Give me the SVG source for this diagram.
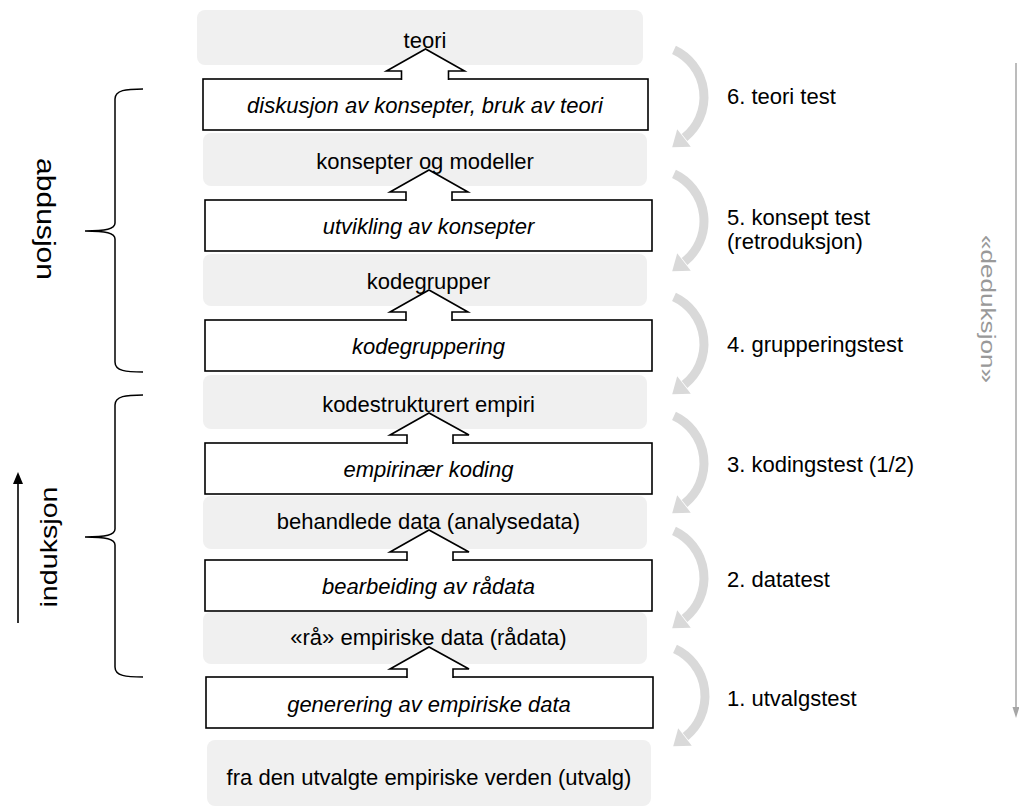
<svg xmlns="http://www.w3.org/2000/svg" xmlns:xlink="http://www.w3.org/1999/xlink" width="1019" height="807" viewBox="0 0 1019 807">
  <style>
    .lvl { fill: #f0f0f0; stroke: none; }
    .step { fill: #ffffff; stroke: #000000; stroke-width: 1.6; }
    .t { font-family: "Liberation Sans", Arial, sans-serif; font-size: 22px; fill: #000000; }
    .c { text-anchor: middle; }
    .i { font-style: italic; }
    .up { fill: #ffffff; stroke: #000000; stroke-width: 1.6; stroke-linejoin: miter; }
    .brace { fill: none; stroke: #000000; stroke-width: 1.5; }
    .side { font-family: "Liberation Sans", Arial, sans-serif; text-anchor: middle; }
  </style>
  <defs>
    <!-- light grey curved return arrow, drawn around its circle centre -->
    <g id="cycle">
      <path d="M 22 -47.1 A 52 52 0 0 1 32.6 40.5" fill="none" stroke="#d9d9d9" stroke-width="9"/>
      <polygon points="20.2,50.2 38.8,49.7 25.2,32.3" fill="#d9d9d9"/>
    </g>
  </defs>

  <rect width="1019" height="807" fill="#ffffff"/>

  <!-- grey levels (results) -->
  <g id="lvl-teori">
    <rect class="lvl" x="197" y="10" width="446" height="55" rx="8"/>
    <text class="t c" x="425" y="48">teori</text>
  </g>
  <g id="lvl-konsepter">
    <rect class="lvl" x="203" y="133" width="444" height="53" rx="8"/>
    <text class="t c" x="425" y="169">konsepter og modeller</text>
  </g>
  <g id="lvl-kodegrupper">
    <rect class="lvl" x="203" y="254" width="444" height="52" rx="8"/>
    <text class="t c" x="428.5" y="289">kodegrupper</text>
  </g>
  <g id="lvl-kodestrukturert">
    <rect class="lvl" x="203" y="375" width="444" height="54" rx="8"/>
    <text class="t c" x="428.5" y="412">kodestrukturert empiri</text>
  </g>
  <g id="lvl-behandlede">
    <rect class="lvl" x="203" y="496" width="444" height="53" rx="8"/>
    <text class="t c" x="428.5" y="529">behandlede data (analysedata)</text>
  </g>
  <g id="lvl-raadata">
    <rect class="lvl" x="203" y="612" width="444" height="52" rx="8"/>
    <text class="t c" x="428.5" y="645">«rå» empiriske data (rådata)</text>
  </g>
  <g id="lvl-utvalg">
    <rect class="lvl" x="207" y="740" width="444" height="66" rx="8"/>
    <text class="t c" x="429" y="785">fra den utvalgte empiriske verden (utvalg)</text>
  </g>

  <!-- white steps (activities) -->
  <g id="step-diskusjon">
    <rect class="step" x="203" y="79" width="445" height="51"/>
    <text class="t c i" x="425" y="113">diskusjon av konsepter, bruk av teori</text>
  </g>
  <g id="step-utvikling">
    <rect class="step" x="205" y="200" width="447" height="51"/>
    <text class="t c i" x="428.5" y="234">utvikling av konsepter</text>
  </g>
  <g id="step-kodegruppering">
    <rect class="step" x="205" y="320" width="447" height="51"/>
    <text class="t c i" x="428.5" y="354">kodegruppering</text>
  </g>
  <g id="step-koding">
    <rect class="step" x="205" y="443" width="447" height="51"/>
    <text class="t c i" x="428.5" y="477">empirinær koding</text>
  </g>
  <g id="step-bearbeiding">
    <rect class="step" x="205" y="560" width="447" height="51"/>
    <text class="t c i" x="428.5" y="594">bearbeiding av rådata</text>
  </g>
  <g id="step-generering">
    <rect class="step" x="206" y="677" width="447" height="51"/>
    <text class="t c i" x="429" y="712">generering av empiriske data</text>
  </g>

  <!-- test labels -->
  <g id="tests" class="t">
    <text x="727" y="104">6. teori test</text>
    <text x="727" y="225">5. konsept test</text>
    <text x="727" y="249">(retroduksjon)</text>
    <text x="727" y="352">4. grupperingstest</text>
    <text x="727" y="472">3. kodingstest (1/2)</text>
    <text x="727" y="587">2. datatest</text>
    <text x="727" y="706">1. utvalgstest</text>
  </g>

  <!-- side labels -->
  <g id="abdusjon">
    <path class="brace" d="M143,89 C126,89 115,90 115,99 V223 C115,229 106,231 85,231 C106,231 115,233 115,239 V362 C115,371 126,372 143,372"/>
    <text class="side" font-size="25" transform="translate(37,219) rotate(90)" textLength="122" lengthAdjust="spacingAndGlyphs">abdusjon</text>
  </g>
  <g id="induksjon">
    <path class="brace" d="M143,395 C126,395 115,396 115,405 V529 C115,535 106,537 85,537 C106,537 115,539 115,545 V667 C115,676 126,677 143,677"/>
    <text class="side" font-size="24" transform="translate(57,547) rotate(-90)" textLength="121" lengthAdjust="spacingAndGlyphs">induksjon</text>
    <line x1="18" y1="623" x2="18" y2="482" stroke="#000000" stroke-width="1.6"/>
    <polygon points="18,472 13,484 23,484" fill="#000000"/>
  </g>
  <g id="deduksjon">
    <line x1="1016" y1="63" x2="1016" y2="708" stroke="#a6a6a6" stroke-width="1.5"/>
    <polygon points="1016,718 1012.5,707 1019.5,707" fill="#a6a6a6"/>
    <text class="side" font-size="21" fill="#999999" transform="translate(981,309) rotate(90)" textLength="148" lengthAdjust="spacingAndGlyphs">«deduksjon»</text>
  </g>

  <!-- connectors: block arrows from each step up to its result, and the test cycles -->
  <g id="connectors">
    <polyline class="up" points="401.5,80 401.5,71 386.5,71 425.5,49 464.5,71 448.5,71 448.5,80"/>
    <polyline class="up" points="406,201 406,192 390,192 429,170 468,192 452,192 452,201"/>
    <polyline class="up" points="406,321 406,312 390,312 429,290 468,312 452,312 452,321"/>
    <polyline class="up" points="407,444 407,435 390,435 429,413 469,435 453,435 453,444"/>
    <polyline class="up" points="407,561 407,552 390,552 429,530 469,552 453,552 453,561"/>
    <polyline class="up" points="407,678 407,669 390,669 429,647 469,669 453,669 453,678"/>

    <use xlink:href="#cycle" transform="translate(652,97)"/>
    <use xlink:href="#cycle" transform="translate(652,221)"/>
    <use xlink:href="#cycle" transform="translate(652,344)"/>
    <use xlink:href="#cycle" transform="translate(652,463)"/>
    <use xlink:href="#cycle" transform="translate(652,578)"/>
    <use xlink:href="#cycle" transform="translate(653,696)"/>
  </g>
</svg>
